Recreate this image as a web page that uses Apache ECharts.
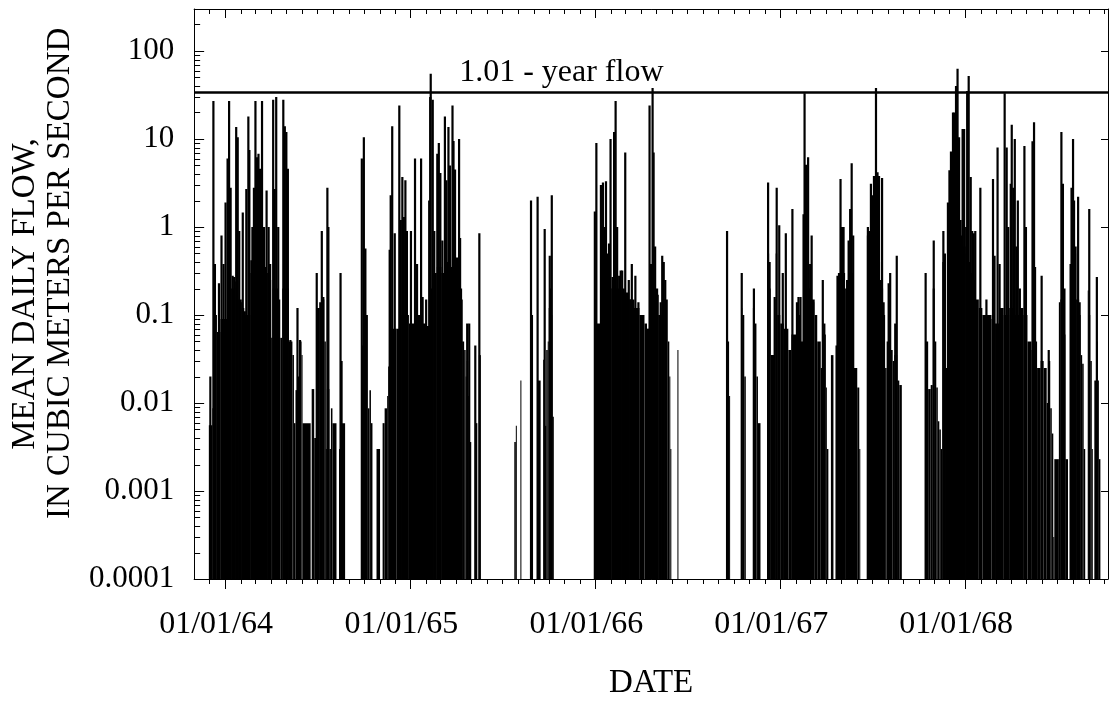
<!DOCTYPE html>
<html><head><meta charset="utf-8">
<script src="https://cdn.jsdelivr.net/npm/echarts@6/dist/echarts.min.js"></script>
<style>html,body{margin:0;padding:0;background:#fff}#c{width:1112px;height:705px}</style>
</head><body><div id="c"></div>
<script>
// ---- data ----
const recordStart = '1963-10-01';          // day 0 of the record
const axisStart = '1963-11-01';
const axisEnd = '1968-10-09';
const yTickLabels = ['0.0001', '0.001', '0.01', '0.1', '1', '10', '100'];
const yMin = 0.0001, yMax = 300;
const floodFlow = 34;
const floodLabel = '1.01 - year flow';

// base (mostly solid) flow level, step-wise: value holds until the next day listed; null = no flow
const floorDays = [
60,67,70,76,83,104,112,118,125,130,
142,152,163,175,180,183,186,198,201,205,
218,225,228,231,236,239,243,245,261,263,
268,272,279,284,288,291,293,298,301,304,
312,317,320,329,361,367,374,377,380,383,
391,398,403,407,412,414,417,430,440,455,
465,480,490,497,503,510,519,525,535,545,
553,560,564,567,569,572,574,578,586,590,
593,597,663,666,668,675,677,696,700,708,
715,720,723,726,729,731,733,736,738,741,
822,826,833,845,855,865,875,890,900,910,
920,925,930,940,947,954,957,960,966,969,
971,973,985,987,1082,1087,1089,1111,1113,1117,
1120,1134,1138,1141,1144,1149,1163,1166,1169,1176,
1179,1182,1188,1195,1204,1210,1220,1229,1233,1242,
1250,1256,1261,1268,1272,1278,1280,1283,1288,1293,
1297,1300,1306,1312,1316,1322,1328,1333,1340,1344,
1346,1359,1363,1367,1372,1380,1385,1391,1395,1398,
1401,1406,1410,1413,1419,1423,1428,1475,1480,1485,
1489,1493,1496,1499,1502,1505,1508,1511,1514,1518,
1521,1524,1527,1532,1537,1543,1549,1554,1558,1563,
1567,1574,1580,1587,1596,1605,1612,1620,1629,1640,
1650,1660,1668,1676,1684,1690,1695,1702,1708,1714,
1718,1721,1724,1727,1729,1738,1741,1747,1751,1756,
1759,1762,1767,1772,1778,1781,1784,1787,1790,1795,
1797,1800,1803,1805,1808,1812,1815,1817,1820];
const floorFlows = [
0.0056,0.0087,0.1,0.064,0.09,0.2,0.24,0.15,0.12,0.1,
0.3,0.3,0.35,0.3,0.25,0.055,0.2,0.15,0.055,0.2,
0.05,0.035,0.0059,0.014,0.02,0.05,0.035,0.0059,null,0.0144,
0.004,0.12,0.05,0.15,0.05,0.003,0.0144,0.003,0.0087,0.0059,
null,0.003,0.0059,null,0.045,0.1,0.0087,0.014,0.0059,null,
0.003,null,0.0059,0.0087,0.012,0.026,0.07,0.07,0.1,0.08,
0.1,0.08,0.075,0.2,0.3,0.35,0.3,0.4,0.35,0.25,
0.2,0.05,0.04,0.02,0.03,0.012,0.0036,null,0.0059,null,
0.035,null,0.0036,0.0055,null,0.018,null,0.1,null,0.018,
null,0.031,0.0055,0.04,0.05,0.12,0.2,0.1,0.007,null,
0.15,0.08,0.15,0.2,0.2,0.2,0.18,0.15,0.12,0.1,
0.08,0.07,0.15,0.2,0.1,0.12,0.15,0.15,0.05,0.02,
0.003,null,0.04,null,0.05,0.012,null,0.12,0.1,0.02,
null,0.12,0.08,0.02,0.0059,null,0.5,0.2,0.035,0.15,
0.5,0.1,0.08,0.07,0.04,0.06,0.1,0.05,0.15,0.2,
0.15,0.1,0.05,0.025,0.06,0.015,0.003,null,0.035,null,
0.045,0.15,0.2,0.3,0.2,0.3,0.3,0.025,0.015,0.003,
null,0.8,0.5,0.6,0.5,0.4,0.2,0.1,0.025,0.05,
0.15,0.04,0.03,0.035,0.018,0.016,null,0.05,0.0144,0.016,
0.2,0.05,0.015,0.0062,0.005,0.003,0.4,0.2,0.025,0.5,
1.0,1.2,1.5,1.2,0.5,0.8,0.6,0.5,0.4,0.3,
0.25,0.15,0.12,0.1,0.1,0.09,0.08,0.12,0.1,0.12,
0.1,0.12,0.1,0.05,0.04,0.05,0.025,0.03,0.025,0.01,
0.03,0.0087,0.0045,0.0003,0.0023,0.14,0.15,0.06,0.0023,null,
0.38,0.5,0.5,0.15,0.1,0.035,0.028,0.003,null,0.19,
0.1,0.03,0.003,null,0.018,0.05,0.018,0.0023,null];

// individual daily peaks
const spikeDays = [
63,69,72,80,85,89,93,97,100,103,
107,110,114,117,120,123,127,131,134,138,
140,144,146,149,152,155,158,161,165,169,
174,178,181,187,190,193,197,207,210,213,
216,221,235,240,273,280,283,286,294,296,
320,322,362,366,369,417,419,422,427,436,
439,442,445,448,451,459,467,471,479,482,
489,495,497,498,502,505,511,514,517,521,
526,529,533,536,541,543,546,550,554,556,
559,570,574,586,594,696,709,723,733,737,
822,825,834,838,841,844,848,850,853,857,
860,863,866,870,873,876,879,882,886,889,
892,895,899,902,905,908,916,930,933,936,
938,941,946,952,955,958,961,1083,1112,1136,
1164,1167,1177,1181,1186,1193,1199,1212,1221,1224,
1228,1234,1236,1239,1243,1247,1250,1253,1272,1275,
1301,1304,1307,1310,1313,1320,1323,1326,1329,1332,
1361,1364,1367,1370,1373,1377,1380,1383,1386,1389,
1392,1402,1405,1415,1418,1475,1491,1510,1513,1519,
1522,1525,1529,1532,1535,1538,1541,1544,1548,1551,
1555,1557,1560,1564,1567,1570,1573,1583,1595,1608,
1611,1617,1621,1631,1635,1638,1643,1645,1648,1651,
1654,1657,1661,1670,1673,1686,1689,1691,1704,1718,
1743,1746,1749,1763,1766,1768,1771,1776,1779,1798,
1813];
const spikeFlows = [
0.02,27,0.38,0.23,0.8,0.38,1.9,6,27,2.8,
0.28,0.27,13.7,10.5,0.9,0.14,1.46,0.11,2.7,18,
7.5,0.42,1.0,2.8,27,6.2,6.8,4.6,27,1.0,
2.6,1.0,0.38,28,2.7,30,1.0,28,14,12,
4.6,0.052,0.12,0.052,0.3,0.14,0.9,0.16,2.8,1.0,
0.3,0.03,6,10.5,0.57,0.55,2.3,14,0.85,24,
1.2,3.7,1.3,3.4,0.9,0.9,6,0.38,6,0.16,
0.15,2,30,55,28,0.9,6.8,9,4.1,0.7,
18,3.4,13.7,5,24,9.5,4.5,0.45,10,0.75,
0.15,0.08,0.08,0.045,0.85,2,2.2,0.95,0.47,2.3,
1.5,9,3,3.2,1.0,3.3,0.5,0.65,10,0.27,
12,27,1.0,0.28,0.32,0.32,0.2,7,0.15,0.25,
0.15,0.38,0.12,0.28,0.12,0.14,0.1,24,0.38,38,
7,0.6,0.17,0.14,0.47,0.4,0.25,0.9,0.3,0.2,
3.2,0.4,0.16,2.8,1.05,0.3,0.85,1.6,0.14,0.16,
0.16,1.4,33,5.1,6.2,0.38,0.8,0.14,0.25,0.08,
0.28,0.3,3.5,1.0,1.0,0.25,0.7,1.6,5.3,0.8,
1.0,0.9,3.1,2.3,3.8,38,4.2,3.8,0.25,3.6,
0.14,0.23,0.3,0.08,0.47,0.3,0.7,0.9,0.5,1.9,
4.4,7.2,20,20,40,63,10.5,1.2,13,13,
1.0,35,52,3.7,0.9,0.85,0.9,2.8,0.15,3.5,
0.47,8,0.38,33,8,1.0,3.1,14.5,2.8,10,
0.6,2,0.2,8.3,1.0,9.4,15.5,0.35,0.28,0.04,
12,3.1,0.2,2.8,10,2,0.6,2.2,0.14,1.6,
0.27];

// ---- build ----
const DAY = 86400000;
const t0 = Date.parse(recordStart + 'T00:00:00Z');
const toTime = d => t0 + d * DAY;
const xMin = Date.parse(axisStart + 'T00:00:00Z');
const xMax = Date.parse(axisEnd + 'T00:00:00Z');
const FONT = 'Liberation Serif';
const NB = '\u00a0';

const floorData = [];
for (let i = 0; i < floorDays.length - 1; i++) {
  if (floorFlows[i] != null) floorData.push([toTime(floorDays[i]), toTime(floorDays[i + 1]), floorFlows[i]]);
}
const spikeData = spikeDays.map((d, i) => [toTime(d), spikeFlows[i]]);

const monthTicks = [];
for (let y = 1963; y <= 1968; y++) for (let m = 0; m < 12; m++) {
  const t = Date.UTC(y, m, 1);
  if (t > xMin && t < xMax) monthTicks.push([t, 1, m === 0 ? 1 : 0]);
}
const minorTicks = [];
for (let e = -4; e <= 2; e++) for (let k = 2; k <= 9; k++) {
  const v = k * Math.pow(10, e);
  if (v < yMax) minorTicks.push([xMin, v]);
}

function fmtDate(v) {
  const d = new Date(v);
  if (d.getUTCMonth() === 0 && d.getUTCDate() === 1 && d.getUTCHours() === 0) {
    return '01/01/' + String(d.getUTCFullYear()).slice(2);
  }
  return '';
}
function fmtY(v) {
  const l = Math.log10(v), r = Math.round(l);
  if (Math.abs(l - r) > 1e-6) return '';
  return yTickLabels[r + 4] || '';
}
const crisp = x => Math.round(x) + 0.5;

const chart = echarts.init(document.getElementById('c'), null, {renderer: 'canvas'});
chart.setOption({
  useUTC: true,
  animation: false,
  backgroundColor: '#fff',
  textStyle: {fontFamily: FONT, color: '#000'},
  grid: {left: 160, right: 4, top: 9, bottom: 119, containLabel: false},
  xAxis: [{
    type: 'time', min: xMin, max: xMax, position: 'bottom',
    axisLine: {show: true, lineStyle: {color: '#000', width: 1}},
    axisTick: {show: false}, splitLine: {show: false},
    axisLabel: {color: '#000', fontSize: 32, lineHeight: 32, fontFamily: FONT, margin: 30,
                formatter: fmtDate, hideOverlap: false, padding: [0, 18, 0, 0]},
    name: 'DATE', nameLocation: 'middle', nameGap: 88,
    nameTextStyle: {color: '#000', fontSize: 33, lineHeight: 33, fontFamily: FONT}
  }, {
    type: 'time', min: xMin, max: xMax, position: 'top',
    axisLine: {show: true, lineStyle: {color: '#000', width: 1}},
    axisTick: {show: false}, axisLabel: {show: false}, splitLine: {show: false}
  }],
  yAxis: [{
    type: 'log', logBase: 10, min: yMin, max: yMax, position: 'left',
    axisLine: {show: true, lineStyle: {color: '#000', width: 1}},
    axisTick: {show: true, inside: true, length: 10, lineStyle: {color: '#000', width: 1}},
    axisLabel: {color: '#000', fontSize: 31, fontFamily: FONT, margin: 20, formatter: fmtY, showMaxLabel: false},
    splitLine: {show: false},
    name: 'MEAN DAILY FLOW,\n' + NB.repeat(5) + 'IN CUBIC METERS PER SECOND',
    nameLocation: 'middle', nameRotate: 90, nameGap: 82,
    nameTextStyle: {color: '#000', fontSize: 33, lineHeight: 35, fontFamily: FONT}
  }, {
    type: 'log', logBase: 10, min: yMin, max: yMax, position: 'right',
    axisLine: {show: true, lineStyle: {color: '#000', width: 1}},
    axisTick: {show: true, inside: true, length: 7, lineStyle: {color: '#000', width: 1}},
    axisLabel: {show: false}, splitLine: {show: false}
  }],
  series: [{
    name: 'base flow', type: 'custom', silent: true, z: 2,
    encode: {x: [0, 1], y: 2},
    data: floorData,
    renderItem(params, api) {
      const p0 = api.coord([api.value(0), api.value(2)]);
      const p1 = api.coord([api.value(1), api.value(2)]);
      const cs = params.coordSys;
      const bottom = cs.y + cs.height;
      return {type: 'rect', shape: {x: p0[0], y: p0[1], width: Math.max(p1[0] - p0[0], 0.8), height: bottom - p0[1]},
              style: {fill: '#000'}};
    }
  }, {
    name: 'daily flow', type: 'custom', silent: true, z: 2,
    encode: {x: 0, y: 1},
    data: spikeData,
    renderItem(params, api) {
      const p = api.coord([api.value(0), api.value(1)]);
      const cs = params.coordSys;
      const bottom = cs.y + cs.height;
      return {type: 'rect', shape: {x: p[0] - 1.1, y: p[1], width: 2.2, height: bottom - p[1]}, style: {fill: '#000'}};
    },
    markLine: {
      silent: true, symbol: 'none', animation: false,
      lineStyle: {color: '#000', width: 2.6, type: 'solid'},
      label: {show: true, position: 'insideStartTop', formatter: floodLabel, color: '#000',
              fontSize: 32, fontFamily: FONT, distance: [265, 4]},
      data: [{yAxis: floodFlow}]
    }
  }, {
    name: 'month ticks', type: 'custom', silent: true, z: 5,
    encode: {x: 0, y: 1},
    data: monthTicks,
    renderItem(params, api) {
      const x = crisp(api.coord([api.value(0), 1])[0]);
      const cs = params.coordSys;
      const jan = api.value(2) === 1;
      const yb = cs.y + cs.height, yt = cs.y;
      return {type: 'group', children: [
        {type: 'line', shape: {x1: x, y1: yb, x2: x, y2: yb + (jan ? 10 : 5)}, style: {stroke: '#000', lineWidth: 1}},
        {type: 'line', shape: {x1: x, y1: yt, x2: x, y2: yt + (jan ? 9 : 5)}, style: {stroke: '#000', lineWidth: 1}}
      ]};
    }
  }, {
    name: 'minor y ticks', type: 'custom', silent: true, z: 5,
    encode: {x: 0, y: 1},
    data: minorTicks,
    renderItem(params, api) {
      const p = api.coord([api.value(0), api.value(1)]);
      const cs = params.coordSys;
      const y = crisp(p[1]);
      return {type: 'line', shape: {x1: cs.x, y1: y, x2: cs.x + 6, y2: y}, style: {stroke: '#000', lineWidth: 1}};
    }
  }]
});
</script>
</body></html>
